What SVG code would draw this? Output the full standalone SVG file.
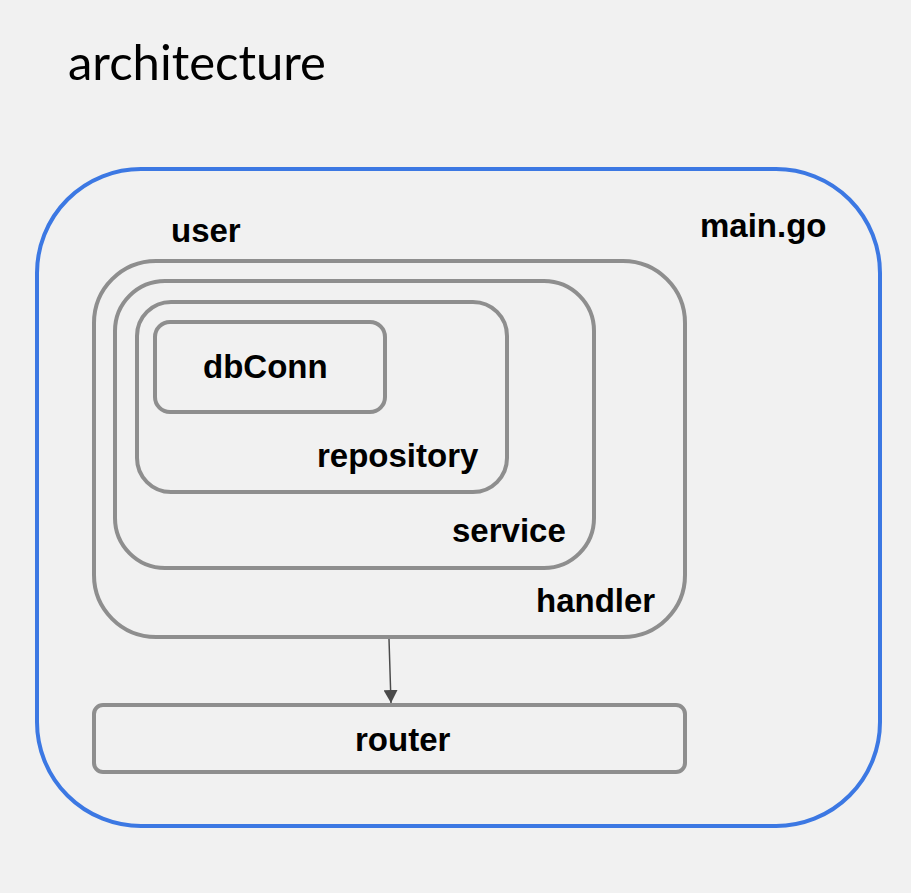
<svg xmlns="http://www.w3.org/2000/svg" width="911" height="893" viewBox="0 0 911 893">
<defs>
<style>
.box{fill:none;stroke:#8e8e8e;stroke-width:4}
.lbl{font-family:"Liberation Sans",Arial,sans-serif;font-weight:bold;font-size:33px;fill:#000}
.title{font-family:Lato,"Open Sans",sans-serif;font-size:49px;fill:#000}
.conn{stroke:#4a4a4a;stroke-width:1.5;fill:none}
</style>
<marker id="arr" markerWidth="13" markerHeight="14" refX="13" refY="7" orient="auto" markerUnits="userSpaceOnUse">
<path d="M0,0 L13,7 L0,14 z" fill="#4a4a4a"/>
</marker>
</defs>
<rect width="911" height="893" fill="#f1f1f1"/>
<text class="title" x="68" y="80">architecture</text>
<g id="main">
<rect x="37" y="169" width="843" height="657" rx="104" ry="104" fill="none" stroke="#3c78e3" stroke-width="4"/>
<text class="lbl" x="700" y="237">main.go</text>
</g>
<g id="user">
<text class="lbl" x="171" y="242">user</text>
</g>
<g id="handler">
<rect class="box" x="94" y="261" width="591" height="376" rx="62" ry="62"/>
<text class="lbl" x="536" y="612">handler</text>
</g>
<g id="service">
<rect class="box" x="115" y="281" width="479" height="287" rx="50" ry="50"/>
<text class="lbl" x="452" y="542">service</text>
</g>
<g id="repository">
<rect class="box" x="137" y="302" width="370" height="190" rx="34" ry="34"/>
<text class="lbl" x="317" y="467">repository</text>
</g>
<g id="dbConn">
<rect class="box" x="155" y="322" width="230" height="90" rx="15" ry="15"/>
<text class="lbl" x="203" y="378">dbConn</text>
</g>
<g id="router">
<rect class="box" x="94" y="705" width="591" height="67" rx="9" ry="9"/>
<text class="lbl" x="355" y="751">router</text>
</g>
<g id="connectors">
<line class="conn" x1="389" y1="639" x2="391" y2="703" marker-end="url(#arr)"/>
</g>
</svg>
